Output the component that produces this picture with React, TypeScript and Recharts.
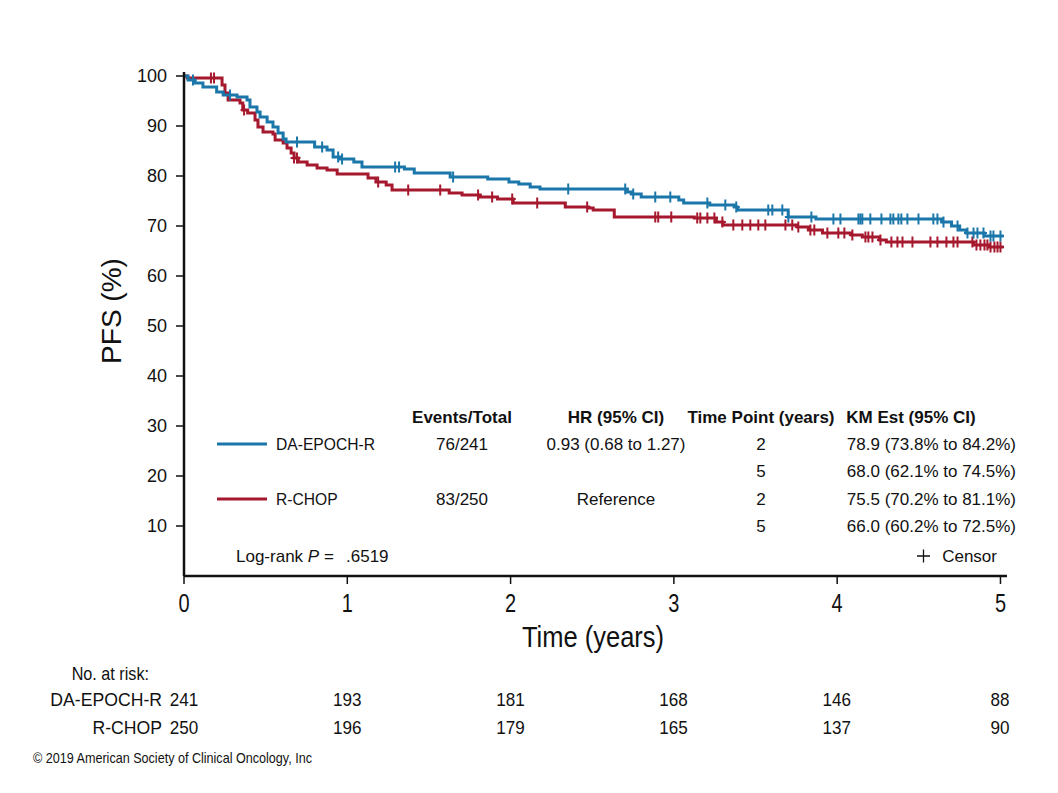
import React from 'react';
import { ComposedChart, Line, Scatter, XAxis, YAxis } from 'recharts';

// Kaplan-Meier step data (time in years, PFS %)
const blueSteps: [number, number][] = [
  [0, 100], [0.025, 99.2], [0.067, 98.6], [0.116, 97.8], [0.2, 96.8], [0.24, 96.2], [0.325, 95.8],
  [0.386, 95.2], [0.404, 93.8], [0.447, 92.8], [0.466, 91.8], [0.509, 90.8], [0.545, 89.8],
  [0.576, 88.6], [0.607, 87.4], [0.625, 86.8], [0.8, 85.8], [0.876, 85.2], [0.913, 83.8],
  [0.956, 83.4], [1.04, 82.8], [1.09, 81.8], [1.35, 81.4], [1.41, 80.6], [1.63, 79.8],
  [1.86, 79.4], [1.99, 78.8], [2.05, 78.4], [2.12, 77.8], [2.18, 77.4], [2.715, 76.8],
  [2.74, 76.4], [2.8, 75.8], [3.03, 75.2], [3.06, 74.6], [3.22, 74.2], [3.37, 73.8],
  [3.39, 73.2], [3.7, 71.8], [3.87, 71.4], [4.64, 70.8], [4.7, 70.0], [4.75, 69.2],
  [4.79, 68.6], [4.9, 68.0], [5.02, 68.0],
];
const redSteps: [number, number][] = [
  [0, 100], [0.02, 99.6], [0.233, 98.2], [0.251, 96.6], [0.27, 95.2], [0.343, 94.6], [0.36, 93.2],
  [0.39, 92.6], [0.435, 91.2], [0.453, 89.8], [0.484, 88.8], [0.545, 88.4], [0.558, 87.2],
  [0.607, 86.6], [0.631, 85.6], [0.656, 84.6], [0.674, 83.6], [0.7, 82.8], [0.754, 82.2],
  [0.815, 81.6], [0.876, 81.2], [0.938, 80.4], [1.127, 79.6], [1.176, 78.8], [1.238, 78.2],
  [1.274, 77.2], [1.624, 76.6], [1.703, 76.2], [1.814, 75.8], [1.92, 75.4], [2.016, 74.6],
  [2.335, 73.8], [2.476, 73.6], [2.506, 73.2], [2.635, 71.8], [3.125, 71.6], [3.26, 70.8],
  [3.3, 70.2], [3.756, 69.8], [3.824, 69.2], [3.91, 68.6], [4.087, 68.2], [4.154, 67.8],
  [4.259, 67.2], [4.301, 66.8], [4.835, 66.2], [4.926, 65.8], [5.02, 65.8],
];

// Censor times
const blueCensorTimes = [
  0.055, 0.282, 0.692, 0.846, 0.944, 0.968, 1.293, 1.317, 1.648, 2.353, 2.702, 2.751, 2.886, 2.978,
  3.205, 3.315, 3.382, 3.578, 3.603, 3.664, 3.701, 3.842, 3.977, 4.02, 4.13, 4.142, 4.154, 4.203,
  4.271, 4.326, 4.344, 4.375, 4.393, 4.43, 4.498, 4.589, 4.614, 4.651, 4.737, 4.798, 4.835, 4.859,
  4.896, 4.939, 4.957, 5.0,
];
const redCensorTimes = [
  0.165, 0.184, 0.368, 0.674, 0.692, 1.189, 1.373, 1.569, 1.801, 1.887, 2.01, 2.163, 2.469, 2.886,
  2.904, 2.984, 3.143, 3.162, 3.205, 3.248, 3.297, 3.364, 3.419, 3.468, 3.517, 3.56, 3.683, 3.725,
  3.762, 3.836, 3.86, 3.94, 4.007, 4.044, 4.093, 4.173, 4.191, 4.216, 4.265, 4.332, 4.369, 4.4,
  4.461, 4.571, 4.614, 4.669, 4.712, 4.737, 4.828, 4.853, 4.877, 4.902, 4.92, 4.939, 4.963, 4.982, 5.0,
];

const xTicks = [0, 1, 2, 3, 4, 5];
const yTicks = [10, 20, 30, 40, 50, 60, 70, 80, 90, 100];

const atRiskTimes = [0, 1, 2, 3, 4, 5];
const atRiskBlue = [241, 193, 181, 168, 146, 88];
const atRiskRed = [250, 196, 179, 165, 137, 90];

const BLUE = '#1b76a9';
const RED = '#a5182d';
const FONT = "'Liberation Sans', Arial, Helvetica, sans-serif";

const toData = (steps: [number, number][]) => steps.map(([t, s]) => ({ t, s }));
const stepValue = (steps: [number, number][], t: number) => {
  let v = steps[0][1];
  for (const [tt, s] of steps) {
    if (tt <= t) v = s;
    else break;
  }
  return v;
};
const censorData = (times: number[], steps: [number, number][]) =>
  times.map((t) => ({ t, s: stepValue(steps, t) }));

const blueData = toData(blueSteps);
const redData = toData(redSteps);
const blueCensor = censorData(blueCensorTimes, blueSteps);
const redCensor = censorData(redCensorTimes, redSteps);

const makeCross = (color: string) => (props: any) => {
  const { cx, cy } = props;
  if (cx == null || cy == null) return <g />;
  return (
    <path
      d={`M${cx - 3.5},${cy}H${cx + 3.5}M${cx},${cy - 5.5}V${cy + 5.5}`}
      stroke={color}
      strokeWidth={2}
      fill="none"
    />
  );
};

const XTick = (props: any) => {
  const { x, y, payload } = props;
  return (
    <text
      transform={`translate(${x},${y + 26}) scale(0.8,1)`}
      textAnchor="middle"
      fontSize={25}
      fontFamily={FONT}
      fill="#111"
    >
      {payload.value}
    </text>
  );
};

// layout constants for the overlay
const PLOT_LEFT = 184;
const PX_PER_YEAR = 163.2;

const Cond = ({ x, y, size, anchor, children, sx = 0.82 }: any) => (
  <text
    transform={`translate(${x},${y}) scale(${sx},1)`}
    textAnchor={anchor}
    fontSize={size}
    fontFamily={FONT}
    fill="#111"
  >
    {children}
  </text>
);

export default function App() {
  const tf = { fontFamily: FONT, fontSize: 17, fill: '#111' };
  const hb = { ...tf, fontWeight: 700 };
  return (
    <div style={{ position: 'absolute', left: 0, top: 0, width: 1058, height: 793, background: '#fff' }}>
      <ComposedChart
        width={1058}
        height={793}
        margin={{ top: 72, right: 51, bottom: 177, left: 124 }}
      >
        <XAxis
          type="number"
          dataKey="t"
          domain={[0, 5.04]}
          ticks={xTicks}
          allowDataOverflow
          height={40}
          tickSize={8}
          tickMargin={2}
          tick={<XTick />}
          axisLine={{ stroke: '#111', strokeWidth: 2.5 }}
          tickLine={{ stroke: '#111', strokeWidth: 1.5 }}
        />
        <YAxis
          type="number"
          dataKey="s"
          domain={[0, 100.8]}
          ticks={yTicks}
          allowDataOverflow
          width={60}
          tickSize={8}
          tickMargin={9}
          tick={{ fontSize: 18, fontFamily: FONT, fill: '#111' }}
          axisLine={{ stroke: '#111', strokeWidth: 2.5 }}
          tickLine={{ stroke: '#111', strokeWidth: 1.5 }}
        />
        <Line
          data={redData}
          dataKey="s"
          type="stepAfter"
          stroke={RED}
          strokeWidth={3}
          dot={false}
          activeDot={false}
          isAnimationActive={false}
        />
        <Line
          data={blueData}
          dataKey="s"
          type="stepAfter"
          stroke={BLUE}
          strokeWidth={3}
          dot={false}
          activeDot={false}
          isAnimationActive={false}
        />
        <Scatter data={redCensor} dataKey="s" shape={makeCross(RED)} isAnimationActive={false} />
        <Scatter data={blueCensor} dataKey="s" shape={makeCross(BLUE)} isAnimationActive={false} />
      </ComposedChart>
      <svg
        width={1058}
        height={793}
        style={{ position: 'absolute', left: 0, top: 0, pointerEvents: 'none' }}
      >
        <text transform="translate(121,311) rotate(-90)" textAnchor="middle" fontSize={28} fontFamily={FONT} fill="#111">
          PFS (%)
        </text>
        <Cond x={593} y={647} size={30} anchor="middle" sx={0.85}>Time (years)</Cond>

        {/* in-plot table */}
        <text x={462} y={423} textAnchor="middle" {...hb}>Events/Total</text>
        <text x={616} y={423} textAnchor="middle" {...hb}>HR (95% CI)</text>
        <text x={761} y={423} textAnchor="middle" {...hb}>Time Point (years)</text>
        <text x={911} y={423} textAnchor="middle" {...hb}>KM Est (95% CI)</text>

        <line x1={217} x2={267} y1={444} y2={444} stroke={BLUE} strokeWidth={3} />
        <Cond x={276} y={450} size={17} anchor="start" sx={0.92}>DA-EPOCH-R</Cond>
        <text x={462} y={450} textAnchor="middle" {...tf}>76/241</text>
        <text x={616} y={450} textAnchor="middle" {...tf}>0.93 (0.68 to 1.27)</text>
        <text x={761} y={450} textAnchor="middle" {...tf}>2</text>
        <text x={1016} y={450} textAnchor="end" {...tf}>78.9 (73.8% to 84.2%)</text>

        <text x={761} y={477} textAnchor="middle" {...tf}>5</text>
        <text x={1016} y={477} textAnchor="end" {...tf}>68.0 (62.1% to 74.5%)</text>

        <line x1={217} x2={267} y1={499} y2={499} stroke={RED} strokeWidth={3} />
        <Cond x={276} y={505} size={17} anchor="start" sx={0.92}>R-CHOP</Cond>
        <text x={462} y={505} textAnchor="middle" {...tf}>83/250</text>
        <text x={616} y={505} textAnchor="middle" {...tf}>Reference</text>
        <text x={761} y={505} textAnchor="middle" {...tf}>2</text>
        <text x={1016} y={505} textAnchor="end" {...tf}>75.5 (70.2% to 81.1%)</text>

        <text x={761} y={532} textAnchor="middle" {...tf}>5</text>
        <text x={1016} y={532} textAnchor="end" {...tf}>66.0 (60.2% to 72.5%)</text>

        <text x={236} y={562} {...tf}>
          Log-rank <tspan fontStyle="italic">P</tspan> =
        </text>
        <text x={346} y={562} {...tf}>.6519</text>
        <path d="M917,556H930M923.5,549.5V562.5" stroke="#111" strokeWidth={1.3} fill="none" />
        <text x={997} y={562} textAnchor="end" {...tf}>Censor</text>

        {/* number at risk */}
        <Cond x={149} y={680} size={18} anchor="end" sx={0.9}>No. at risk:</Cond>
        <Cond x={162} y={706} size={18} anchor="end" sx={0.98}>DA-EPOCH-R</Cond>
        <Cond x={162} y={734} size={18} anchor="end" sx={0.98}>R-CHOP</Cond>
        {atRiskTimes.map((t, i) => (
          <Cond key={`b${i}`} x={PLOT_LEFT + t * PX_PER_YEAR} y={706} size={18} anchor="middle" sx={0.95}>
            {atRiskBlue[i]}
          </Cond>
        ))}
        {atRiskTimes.map((t, i) => (
          <Cond key={`r${i}`} x={PLOT_LEFT + t * PX_PER_YEAR} y={734} size={18} anchor="middle" sx={0.95}>
            {atRiskRed[i]}
          </Cond>
        ))}
        <Cond x={33} y={763} size={14} anchor="start" sx={0.9}>© 2019 American Society of Clinical Oncology, Inc</Cond>
      </svg>
    </div>
  );
}
